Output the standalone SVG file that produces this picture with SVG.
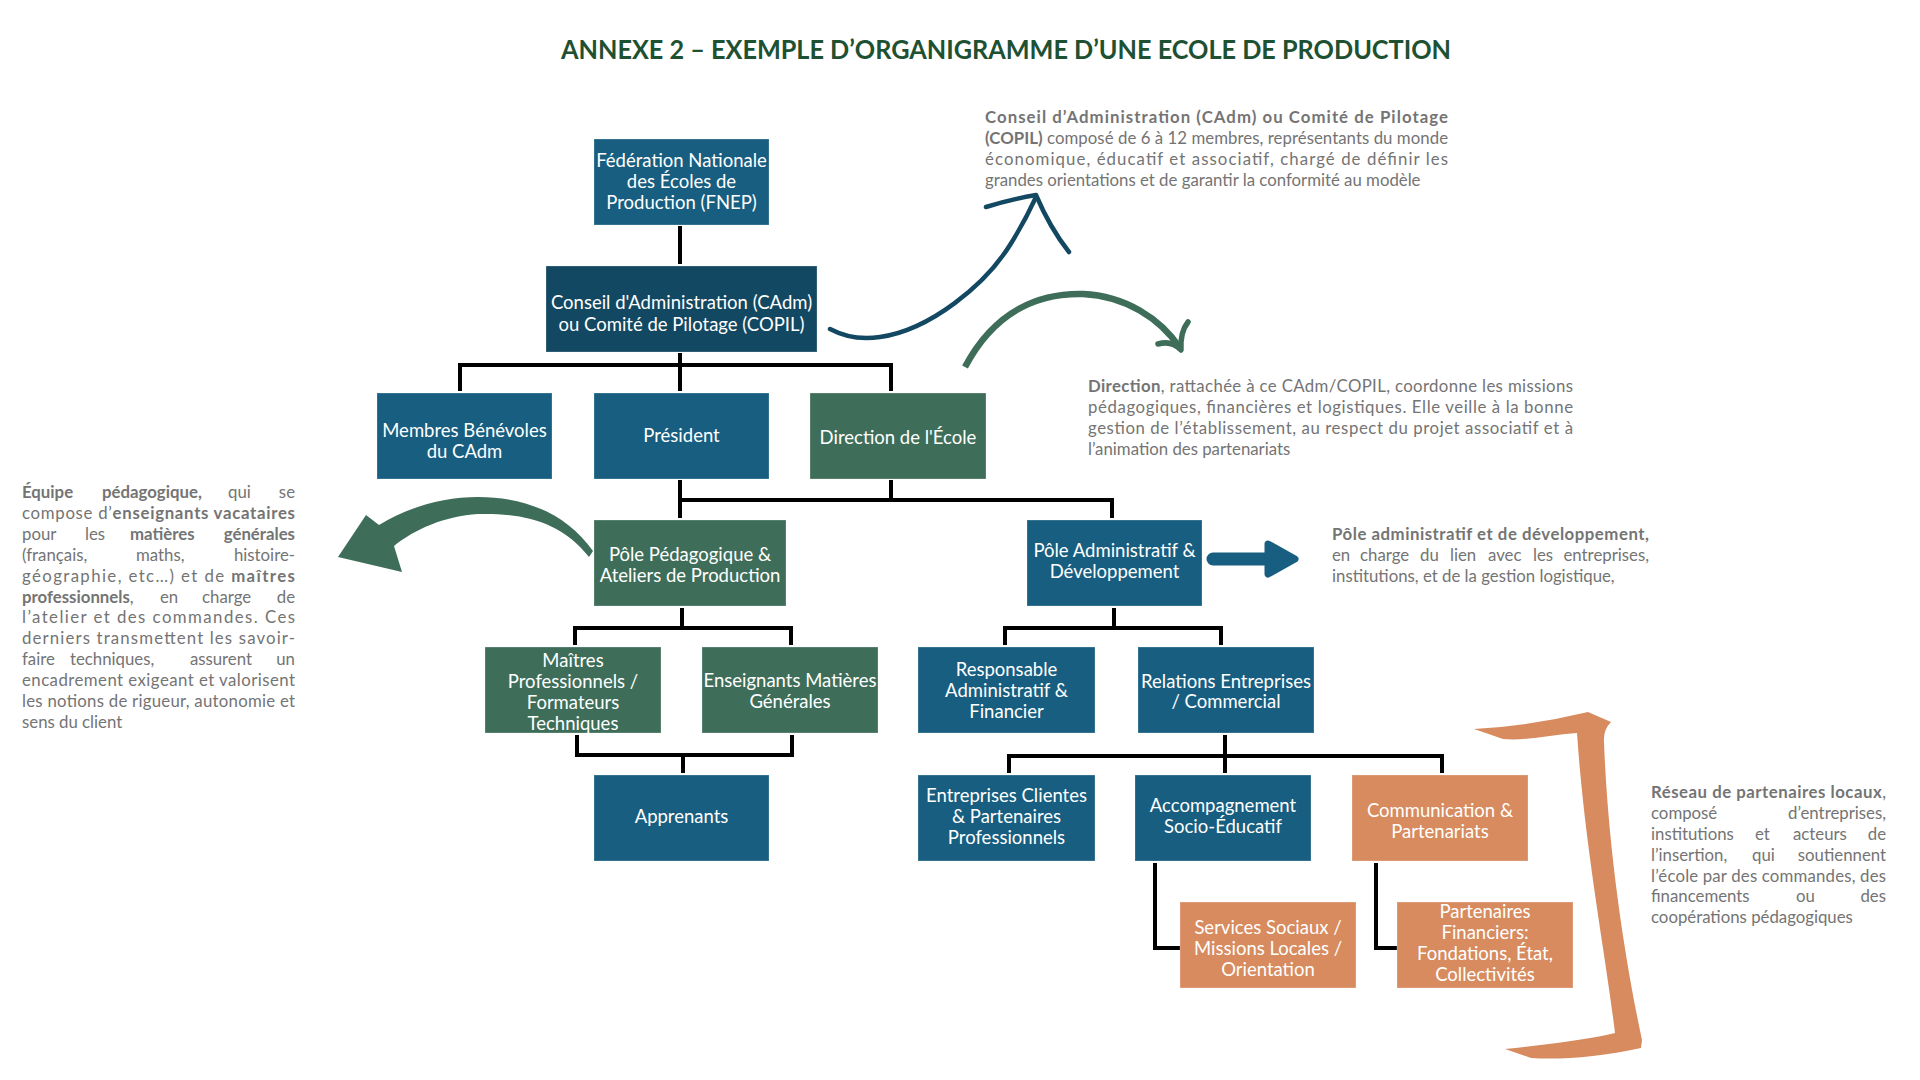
<svg xmlns="http://www.w3.org/2000/svg" width="1920" height="1080" viewBox="0 0 1920 1080">
<style>
.bg{fill:#ffffff}
.blue{fill:#175e80}
.dark{fill:#134862}
.green{fill:#3e6e5a}
.orange{fill:#d78b5e}
.box{stroke:#ffffff;stroke-opacity:0.25;stroke-width:1}
.lbl{font-family:Lato,"Open Sans","Liberation Sans",sans-serif;font-size:18.5px;fill:#ffffff;text-anchor:middle}
.conn{stroke:#000000;stroke-width:4;fill:none;stroke-linejoin:miter}
.note{font-family:Lato,"Open Sans","Liberation Sans",sans-serif;font-size:16.8px;fill:#747474}
.b{font-weight:bold}
.end{text-anchor:end}
.title{font-family:Lato,"Open Sans","Liberation Sans",sans-serif;font-size:26px;font-weight:bold;fill:#1e5032;text-anchor:middle}
</style>
<rect class="bg" x="0" y="0" width="1920" height="1080"/>

<text class="title" x="1006" y="59" textLength="890" lengthAdjust="spacingAndGlyphs">ANNEXE 2 – EXEMPLE D’ORGANIGRAMME D’UNE ECOLE DE PRODUCTION</text>

<g id="connectors">
  <path class="conn" d="M680 226 V264"/>
  <path class="conn" d="M680 353 V391"/>
  <path class="conn" d="M460 391 V365 H891 V391"/>
  <path class="conn" d="M680 480 V518"/>
  <path class="conn" d="M891 480 V500"/>
  <path class="conn" d="M680 500 H1112 V518"/>
  <path class="conn" d="M682 608 V628"/>
  <path class="conn" d="M575 645 V628 H791 V645"/>
  <path class="conn" d="M577 735 V755 H792 V735"/>
  <path class="conn" d="M683 755 V773"/>
  <path class="conn" d="M1114 608 V628"/>
  <path class="conn" d="M1005 645 V628 H1221 V645"/>
  <path class="conn" d="M1225 735 V773"/>
  <path class="conn" d="M1009 773 V756 H1442 V773"/>
  <path class="conn" d="M1155 863 V948 H1180"/>
  <path class="conn" d="M1376 863 V948 H1397"/>
</g>

<g id="node-fnep">
  <rect class="blue box" x="594" y="139" width="175" height="86"/>
  <text class="lbl" x="681.5" y="167">Fédération Nationale</text>
  <text class="lbl" x="681.5" y="188">des Écoles de</text>
  <text class="lbl" x="681.5" y="209">Production (FNEP)</text>
</g>
<g id="node-cadm">
  <rect class="dark box" x="546" y="266" width="271" height="86"/>
  <text class="lbl" x="681.5" y="309">Conseil d'Administration (CAdm)</text>
  <text class="lbl" x="681.5" y="331">ou Comité de Pilotage (COPIL)</text>
</g>
<g id="node-membres">
  <rect class="blue box" x="377" y="393" width="175" height="86"/>
  <text class="lbl" x="464.5" y="437">Membres Bénévoles</text>
  <text class="lbl" x="464.5" y="458">du CAdm</text>
</g>
<g id="node-president">
  <rect class="blue box" x="594" y="393" width="175" height="86"/>
  <text class="lbl" x="681.5" y="442">Président</text>
</g>
<g id="node-direction">
  <rect class="green box" x="810" y="393" width="176" height="86"/>
  <text class="lbl" x="898" y="444">Direction de l'École</text>
</g>
<g id="node-pole-peda">
  <rect class="green box" x="594" y="520" width="192" height="86"/>
  <text class="lbl" x="690" y="561">Pôle Pédagogique &amp;</text>
  <text class="lbl" x="690" y="582">Ateliers de Production</text>
</g>
<g id="node-pole-admin">
  <rect class="blue box" x="1027" y="520" width="175" height="86"/>
  <text class="lbl" x="1114.5" y="557">Pôle Administratif &amp;</text>
  <text class="lbl" x="1114.5" y="578">Développement</text>
</g>
<g id="node-maitres">
  <rect class="green box" x="485" y="647" width="176" height="86"/>
  <text class="lbl" x="573" y="667">Maîtres</text>
  <text class="lbl" x="573" y="688">Professionnels /</text>
  <text class="lbl" x="573" y="709">Formateurs</text>
  <text class="lbl" x="573" y="730">Techniques</text>
</g>
<g id="node-enseignants">
  <rect class="green box" x="702" y="647" width="176" height="86"/>
  <text class="lbl" x="790" y="687">Enseignants Matières</text>
  <text class="lbl" x="790" y="708">Générales</text>
</g>
<g id="node-apprenants">
  <rect class="blue box" x="594" y="775" width="175" height="86"/>
  <text class="lbl" x="681.5" y="823">Apprenants</text>
</g>
<g id="node-responsable">
  <rect class="blue box" x="918" y="647" width="177" height="86"/>
  <text class="lbl" x="1006.5" y="676">Responsable</text>
  <text class="lbl" x="1006.5" y="697">Administratif &amp;</text>
  <text class="lbl" x="1006.5" y="718">Financier</text>
</g>
<g id="node-relations">
  <rect class="blue box" x="1138" y="647" width="176" height="86"/>
  <text class="lbl" x="1226" y="688">Relations Entreprises</text>
  <text class="lbl" x="1226" y="708">/ Commercial</text>
</g>
<g id="node-entreprises">
  <rect class="blue box" x="918" y="775" width="177" height="86"/>
  <text class="lbl" x="1006.5" y="802">Entreprises Clientes</text>
  <text class="lbl" x="1006.5" y="823">&amp; Partenaires</text>
  <text class="lbl" x="1006.5" y="844">Professionnels</text>
</g>
<g id="node-accompagnement">
  <rect class="blue box" x="1135" y="775" width="176" height="86"/>
  <text class="lbl" x="1223" y="812">Accompagnement</text>
  <text class="lbl" x="1223" y="833">Socio-Éducatif</text>
</g>
<g id="node-communication">
  <rect class="orange box" x="1352" y="775" width="176" height="86"/>
  <text class="lbl" x="1440" y="817">Communication &amp;</text>
  <text class="lbl" x="1440" y="838">Partenariats</text>
</g>
<g id="node-services">
  <rect class="orange box" x="1180" y="902" width="176" height="86"/>
  <text class="lbl" x="1268" y="934">Services Sociaux /</text>
  <text class="lbl" x="1268" y="955">Missions Locales /</text>
  <text class="lbl" x="1268" y="976">Orientation</text>
</g>
<g id="node-partenaires">
  <rect class="orange box" x="1397" y="902" width="176" height="86"/>
  <text class="lbl" x="1485" y="918">Partenaires</text>
  <text class="lbl" x="1485" y="939">Financiers:</text>
  <text class="lbl" x="1485" y="960">Fondations, État,</text>
  <text class="lbl" x="1485" y="981">Collectivités</text>
</g>

<g id="arrows">
  <path d="M830 329 C845 337 860 340 880 337 C930 330 985 285 1010 245 C1022 226 1030 210 1036 197" fill="none" stroke="#134862" stroke-width="4.5" stroke-linecap="round"/>
  <path d="M986 207 Q1012 199 1036 195 Q1050 228 1069 252" fill="none" stroke="#134862" stroke-width="4.5" stroke-linecap="round" stroke-linejoin="round"/>
  <path d="M965 367 C995 310 1040 293 1083 294 C1125 296 1160 318 1180 348" fill="none" stroke="#3e6e5a" stroke-width="6.5" stroke-linecap="butt"/>
  <path d="M1158 344 Q1172 340 1181 350 Q1180 332 1188 322" fill="none" stroke="#3e6e5a" stroke-width="5.5" stroke-linecap="round" stroke-linejoin="round"/>
  <path d="M589 557 C560 520 520 513 478 514 C445 516 415 529 394 546 L402 572 L338 557 L366 515 L379 525 C410 506 445 497 478 497 C525 497 566 513 593 551 Z" fill="#3e6e5a"/>
  <line x1="1213" y1="559" x2="1268" y2="559" stroke="#175e80" stroke-width="13" stroke-linecap="round"/>
  <path d="M1268 544 L1295 559 L1268 574 Z" fill="#175e80" stroke="#175e80" stroke-width="7" stroke-linejoin="round"/>
  <path d="M1474 729 Q1530 726 1588 712 L1611 722 Q1603 730 1604 742 C1608 850 1625 960 1642 1040 L1641 1048 C1600 1057 1560 1060 1531 1058 L1505 1049 C1545 1045 1585 1040 1615 1033 C1605 950 1585 850 1577 733 C1550 735 1525 741 1503 739 Z" fill="#d78b5e"/>
</g>

<g id="note-conseil" class="note">
  <text x="985" y="123" textLength="463" lengthAdjust="spacing"><tspan class="b">Conseil d’Administration (CAdm) ou Comité de Pilotage</tspan></text>
  <text x="985" y="144" textLength="463" lengthAdjust="spacing"><tspan class="b">(COPIL)</tspan> composé de 6 à 12 membres, représentants du monde</text>
  <text x="985" y="165" textLength="463" lengthAdjust="spacing">économique, éducatif et associatif, chargé de définir les</text>
  <text x="985" y="186">grandes orientations et de garantir la conformité au modèle</text>
</g>

<g id="note-direction" class="note">
  <text x="1088" y="392" textLength="485" lengthAdjust="spacing"><tspan class="b">Direction</tspan>, rattachée à ce CAdm/COPIL, coordonne les missions</text>
  <text x="1088" y="413" textLength="485" lengthAdjust="spacing">pédagogiques, financières et logistiques. Elle veille à la bonne</text>
  <text x="1088" y="434" textLength="485" lengthAdjust="spacing">gestion de l’établissement, au respect du projet associatif et à</text>
  <text x="1088" y="455">l’animation des partenariats</text>
</g>

<g id="note-pole-admin" class="note">
  <text x="1332" y="540" class="b" textLength="317" lengthAdjust="spacing">Pôle administratif et de développement,</text>
  <text y="561"><tspan x="1332">en</tspan><tspan x="1360">charge</tspan><tspan x="1420">du</tspan><tspan x="1450">lien</tspan><tspan x="1488">avec</tspan><tspan x="1533">les</tspan></text>
  <text x="1649" y="561" class="end">entreprises,</text>
  <text x="1332" y="582">institutions, et de la gestion logistique,</text>
</g>

<g id="note-equipe" class="note">
  <text y="498"><tspan x="22" class="b">Équipe</tspan><tspan x="102" class="b">pédagogique,</tspan><tspan x="228">qui</tspan></text>
  <text x="295" y="498" class="end">se</text>
  <text x="22" y="519" textLength="273" lengthAdjust="spacing">compose d’<tspan class="b">enseignants vacataires</tspan></text>
  <text y="540"><tspan x="22">pour</tspan><tspan x="85">les</tspan><tspan x="130" class="b">matières</tspan></text>
  <text x="295" y="540" class="b end">générales</text>
  <text y="561"><tspan x="22">(français,</tspan><tspan x="136">maths,</tspan></text>
  <text x="295" y="561" class="end">histoire-</text>
  <text x="22" y="582" textLength="273" lengthAdjust="spacing">géographie, etc…) et de <tspan class="b">maîtres</tspan></text>
  <text y="603"><tspan x="22" class="b">professionnels</tspan>,<tspan x="160">en</tspan><tspan x="202">charge</tspan></text>
  <text x="295" y="603" class="end">de</text>
  <text x="22" y="623" textLength="273" lengthAdjust="spacing">l’atelier et des commandes. Ces</text>
  <text x="22" y="644" textLength="273" lengthAdjust="spacing">derniers transmettent les savoir-</text>
  <text x="22" y="665">faire</text>
  <text x="70" y="665">techniques,</text>
  <text x="252" y="665" class="end">assurent</text>
  <text x="295" y="665" class="end">un</text>
  <text x="22" y="686" textLength="273" lengthAdjust="spacing">encadrement exigeant et valorisent</text>
  <text x="22" y="707" textLength="273" lengthAdjust="spacing">les notions de rigueur, autonomie et</text>
  <text x="22" y="728">sens du client</text>
</g>

<g id="note-reseau" class="note">
  <text x="1651" y="798" textLength="235" lengthAdjust="spacing"><tspan class="b">Réseau de partenaires locaux</tspan>,</text>
  <text x="1651" y="819">composé</text>
  <text x="1886" y="819" class="end">d’entreprises,</text>
  <text y="840"><tspan x="1651">institutions</tspan><tspan x="1755">et</tspan><tspan x="1793">acteurs</tspan></text>
  <text x="1886" y="840" class="end">de</text>
  <text y="861"><tspan x="1651">l’insertion,</tspan><tspan x="1752">qui</tspan></text>
  <text x="1886" y="861" class="end">soutiennent</text>
  <text x="1651" y="882" textLength="235" lengthAdjust="spacing">l’école par des commandes, des</text>
  <text y="902"><tspan x="1651">financements</tspan><tspan x="1796">ou</tspan></text>
  <text x="1886" y="902" class="end">des</text>
  <text x="1651" y="923">coopérations pédagogiques</text>
</g>
</svg>
